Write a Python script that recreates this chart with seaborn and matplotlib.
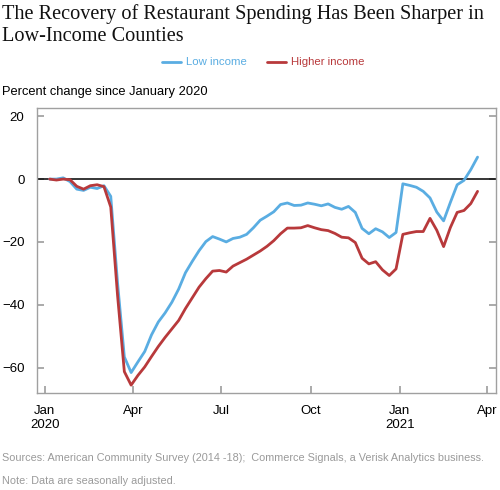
#!/usr/bin/env python3
"""Restaurant spending recovery by county income, weekly, Jan 2020 - Mar 2021."""

import matplotlib

matplotlib.use("Agg")
import matplotlib.pyplot as plt
import numpy as np
import pandas as pd
import seaborn as sns

START_DATE = "2020-01-06"

LOW_INCOME = [
    0.0, 0.0, 0.4, -0.8, -3.2, -3.6, -2.6, -3.0, -2.1, -5.5,
    -33.0, -56.6, -61.6, -58.2, -54.9, -49.6, -45.5, -42.6, -39.2, -35.0,
    -29.8, -26.2, -22.8, -19.9, -18.3, -19.1, -20.0, -18.9, -18.5, -17.6,
    -15.5, -13.1, -11.8, -10.4, -8.1, -7.6, -8.4, -8.3, -7.6, -8.0,
    -8.5, -7.9, -9.0, -9.6, -8.7, -10.6, -15.7, -17.4, -15.8, -16.8,
    -18.6, -17.0, -1.5, -2.0, -2.6, -3.9, -6.0, -10.5, -13.3, -7.4,
    -1.8, -0.4, 3.0, 7.0,
]

HIGHER_INCOME = [
    0.0, -0.3, 0.0, -0.2, -2.3, -3.2, -2.1, -1.8, -2.4, -8.9,
    -37.0, -61.3, -65.6, -62.5, -59.8, -56.5, -53.3, -50.4, -47.7, -45.0,
    -41.2, -37.8, -34.4, -31.7, -29.3, -29.1, -29.6, -27.7, -26.6, -25.5,
    -24.2, -22.9, -21.4, -19.6, -17.4, -15.6, -15.6, -15.5, -14.8, -15.5,
    -16.1, -16.4, -17.3, -18.5, -18.7, -20.2, -25.2, -27.0, -26.3, -28.9,
    -30.7, -28.6, -17.6, -17.1, -16.7, -16.7, -12.5, -16.3, -21.5, -15.4,
    -10.6, -10.0, -7.8, -3.9,
]

SERIES_NAMES = ["Low income", "Higher income"]
COLORS = ["#5aade2", "#b8393b"]

X_TICKS = ["2020-01-01", "2020-04-01", "2020-07-01", "2020-10-01", "2021-01-01", "2021-04-01"]
X_TICK_LABELS = ["Jan\n2020", "Apr", "Jul", "Oct", "Jan\n2021", "Apr"]
Y_TICKS = [-60, -40, -20, 0, 20]

TITLE = "The Recovery of Restaurant Spending Has Been Sharper in\nLow-Income Counties"
Y_LABEL = "Percent change since January 2020"
SOURCE = "Sources: American Community Survey (2014 -18);  Commerce Signals, a Verisk Analytics business."
NOTE = "Note: Data are seasonally adjusted."


def build_frame() -> pd.DataFrame:
    dates = pd.date_range(START_DATE, periods=len(LOW_INCOME), freq="7D")
    wide = pd.DataFrame({"date": dates, SERIES_NAMES[0]: LOW_INCOME, SERIES_NAMES[1]: HIGHER_INCOME})
    return wide.melt(id_vars="date", var_name="series", value_name="pct")


def main() -> None:
    sns.set_theme(style="white")
    plt.rcParams["font.family"] = ["Liberation Sans", "DejaVu Sans"]

    df = build_frame()

    fig = plt.figure(figsize=(5.0, 4.9), dpi=100)
    ax = fig.add_axes([0.074, 0.198, 0.918, 0.582])

    ax.axhline(0, color="black", linewidth=1.1, zorder=1)
    sns.lineplot(
        data=df,
        x="date",
        y="pct",
        hue="series",
        hue_order=SERIES_NAMES,
        palette=COLORS,
        linewidth=2.0,
        legend=False,
        ax=ax,
        zorder=2,
    )

    ax.set_xlim(pd.Timestamp("2019-12-24"), pd.Timestamp("2021-04-10"))
    ax.set_ylim(-68.1, 22.7)
    ax.set_xticks(pd.to_datetime(X_TICKS))
    ax.set_xticklabels(X_TICK_LABELS)
    ax.set_yticks(Y_TICKS)
    ax.set_xlabel("")
    ax.set_ylabel("")

    for spine in ax.spines.values():
        spine.set_color("#a0a0a0")
        spine.set_linewidth(1.0)
    ax.tick_params(axis="x", direction="in", length=5, color="#a0a0a0", labelsize=9.5,
                   pad=9, labelcolor="black", bottom=True)
    ax.tick_params(axis="y", direction="in", length=5, color="#a0a0a0", labelsize=9.5,
                   pad=9, labelcolor="black", left=True, right=True)

    fig.text(0.004, 0.992, TITLE, family=["Liberation Serif", "DejaVu Serif"], fontsize=14.6,
             va="top", ha="left", linespacing=1.22, color="#111111")

    # legend drawn by hand: line sample + coloured text
    leg_y = 1 - 62 / 490
    for name, color, x0 in zip(SERIES_NAMES, COLORS, [162 / 500, 267 / 500]):
        fig.add_artist(plt.Line2D([x0, x0 + 19 / 500], [leg_y, leg_y], color=color,
                                  linewidth=2.0, transform=fig.transFigure))
        fig.text(x0 + 24 / 500, leg_y, name, color=color, fontsize=8.2, va="center", ha="left")

    fig.text(0.004, 1 - 92 / 490, Y_LABEL, fontsize=9.3, va="center", ha="left", color="black")
    fig.text(0.004, 1 - 458 / 490, SOURCE, fontsize=7.8, va="center", ha="left", color="#9a9a9a")
    fig.text(0.004, 1 - 481 / 490, NOTE, fontsize=7.8, va="center", ha="left", color="#9a9a9a")

    fig.savefig("out.png", dpi=100)
    plt.close(fig)


if __name__ == "__main__":
    main()
